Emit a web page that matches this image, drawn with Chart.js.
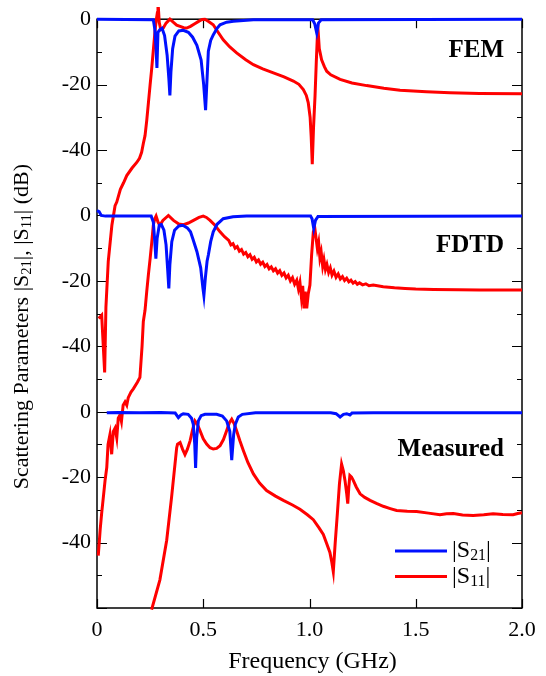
<!DOCTYPE html>
<html>
<head>
<meta charset="utf-8">
<script src="https://cdn.jsdelivr.net/npm/chart.js@4.4.0/dist/chart.umd.min.js"></script>
<style>
  html, body { margin: 0; padding: 0; background: #fff; }
  canvas { display: block; }
</style>
</head>
<body>
<canvas id="chart" width="546" height="676"></canvas>
<script>
// === Data (frequency in GHz, values in dB) ===
const xTicks = [0, 0.5, 1.0, 1.5, 2.0];
const panelNames = ["FEM", "FDTD", "Measured"];
const panelOffset = [0, -60, -120];   // each panel is shifted down by 60 dB

const femS21Freq = [0, 0.265, 0.272, 0.278, 0.282, 0.287, 0.296, 0.306, 0.318, 0.33, 0.338, 0.343, 0.348, 0.356, 0.367, 0.385, 0.406, 0.43, 0.45, 0.47, 0.49, 0.502, 0.511, 0.518, 0.524, 0.535, 0.547, 0.565, 0.579, 0.61, 0.642, 0.736, 1.015, 1.025, 1.034, 1.042, 1.055, 2.0];
const femS21 = [0, -0.2, -3, -9, -14.9, -4, -3.2, -2.8, -5, -11, -18, -23.3, -16, -9, -5.2, -3.6, -3.4, -4, -5.5, -8, -12.5, -20, -27.8, -18, -9.8, -6.5, -4.8, -2.8, -1.7, -0.9, -0.6, -0.2, -0.2, -1.5, -4.2, -1.2, -0.2, 0];

const femS11Freq = [0.008, 0.022, 0.036, 0.042, 0.053, 0.07, 0.085, 0.093, 0.11, 0.125, 0.14, 0.165, 0.187, 0.2, 0.21, 0.218, 0.226, 0.234, 0.242, 0.25, 0.257, 0.263, 0.268, 0.274, 0.279, 0.284, 0.287, 0.289, 0.293, 0.3, 0.312, 0.325, 0.343, 0.36, 0.375, 0.391, 0.408, 0.422, 0.44, 0.46, 0.48, 0.495, 0.508, 0.525, 0.547, 0.57, 0.594, 0.625, 0.657, 0.7, 0.736, 0.78, 0.83, 0.88, 0.924, 0.95, 0.971, 0.985, 0.994, 1.003, 1.008, 1.013, 1.019, 1.026, 1.032, 1.037, 1.041, 1.046, 1.057, 1.07, 1.081, 1.1, 1.144, 1.2, 1.269, 1.35, 1.426, 1.55, 1.661, 1.8, 2.0];
const femS11 = [-91.5, -90.5, -108, -88, -74, -63, -57, -55.9, -52, -50, -47.8, -45.5, -43.8, -42.5, -40.7, -38, -35.6, -31, -25.5, -20, -15.4, -11, -7.3, -3, -0.2, 2, 3.3, 3.3, -1, -3.2, -2.7, -1.2, 0, -1, -1.8, -2.2, -2.6, -2.7, -2.2, -1.4, -0.6, -0.1, 0, -0.7, -1.7, -4, -6.3, -8.5, -10.3, -12.4, -13.9, -15.2, -16.4, -17.6, -18.9, -19.9, -21.5, -23.3, -25.5, -30, -36, -44.3, -33, -23.5, -13, -5.3, -4, -9, -12.4, -14.5, -15.9, -17, -18.4, -19.5, -20.3, -21.1, -21.7, -22.2, -22.5, -22.7, -22.8];

const fdtdS21Freq = [0, 0.01, 0.02, 0.04, 0.255, 0.265, 0.272, 0.277, 0.283, 0.293, 0.303, 0.315, 0.325, 0.333, 0.338, 0.343, 0.352, 0.365, 0.385, 0.404, 0.425, 0.44, 0.451, 0.47, 0.488, 0.498, 0.503, 0.51, 0.518, 0.524, 0.535, 0.547, 0.565, 0.594, 0.64, 0.704, 1.005, 1.012, 1.02, 1.028, 1.04, 2.0];
const fdtdS21 = [1.5, 1.2, 0, -0.2, -0.2, -2, -8, -13.2, -7, -3, -2.8, -4.5, -9, -17, -22.3, -15, -8, -4.5, -3.2, -3, -3.8, -5, -7.1, -11, -16, -22, -24.5, -19, -14, -12.1, -8, -5, -2.7, -1, -0.4, -0.2, -0.2, -1, -4, -1.5, -0.3, -0.2];

const fdtdS11Freq = [0.006, 0.015, 0.022, 0.03, 0.038, 0.046, 0.052, 0.061, 0.069, 0.077, 0.085, 0.093, 0.1, 0.108, 0.115, 0.123, 0.132, 0.14, 0.147, 0.16, 0.171, 0.19, 0.202, 0.212, 0.218, 0.226, 0.234, 0.242, 0.25, 0.258, 0.265, 0.272, 0.278, 0.287, 0.296, 0.31, 0.336, 0.36, 0.385, 0.407, 0.43, 0.454, 0.48, 0.5, 0.515, 0.532, 0.555, 0.579, 0.6,
  0.62, 0.63, 0.64, 0.65, 0.66, 0.67, 0.68, 0.69, 0.7, 0.71, 0.72, 0.73, 0.74, 0.75, 0.76, 0.77, 0.78, 0.79, 0.8, 0.81, 0.82, 0.83, 0.84, 0.85, 0.86, 0.87, 0.88, 0.89, 0.9, 0.91, 0.92, 0.93, 0.94,
  0.948, 0.955, 0.962, 0.968, 0.974, 0.98, 0.987, 0.994, 1.002, 1.01, 1.018, 1.025, 1.031, 1.037, 1.043, 1.049, 1.055, 1.062, 1.068, 1.075, 1.082, 1.09, 1.098, 1.106, 1.115, 1.125, 1.135, 1.145, 1.155, 1.165, 1.175, 1.185, 1.195, 1.205, 1.215, 1.225, 1.235, 1.25, 1.265, 1.28, 1.3, 1.347, 1.4, 1.45, 1.5, 1.584, 1.7, 1.8, 1.9, 2.0];
const fdtdS11 = [-104, -96, -91, -86, -81, -77, -70, -67, -73, -66, -65, -68, -62, -61, -63, -58, -57, -58, -55.7, -54, -53, -51, -49.5, -40, -32.4, -29, -23.3, -18, -13.2, -8, -3, -1, -0.2, -2, -3, -1.5, 0, -1.5, -2.6, -2.8, -2.3, -1.5, -0.6, -0.2, -0.6, -1.5, -3, -5, -6.5,
  -7.6, -9.0, -8.6, -10.0, -9.5, -10.9, -10.4, -11.8, -11.3, -12.6, -12.0, -13.4, -12.8, -14.2, -13.6, -14.9, -14.3, -15.6, -15.0, -16.3, -15.7, -16.9, -16.3, -17.6, -16.9, -18.3, -17.6, -19.1, -18.3, -20.0, -19.0, -21.0, -19.8,
  -22.5, -20.5, -25, -21.5, -28.4, -23.3, -28.4, -24, -21.3, -12, -5, -3.9, -7, -10.1, -8.2, -13, -11.2, -15.5, -13.5, -16.5, -15, -17.4, -16, -18.2, -17, -18.9, -17.9, -19.4, -18.7, -19.9, -19.2, -20.3, -19.8, -20.7, -20.2, -21.0, -20.6, -21.2, -20.9, -21.5, -21.3, -21.8, -22.1, -22.3, -22.5, -22.6, -22.7, -22.8, -22.8, -22.8];

const measS21Freq = [0.046, 0.1, 0.2, 0.3, 0.368, 0.383, 0.395, 0.406, 0.429, 0.445, 0.453, 0.46, 0.464, 0.469, 0.477, 0.49, 0.508, 0.563, 0.59, 0.61, 0.625, 0.634, 0.643, 0.651, 0.665, 0.684, 0.746, 1.1, 1.125, 1.144, 1.16, 1.175, 1.19, 1.2, 1.3, 2.0];
const measS21 = [-0.3, -0.2, -0.3, -0.2, -0.4, -1.8, -1.0, -0.6, -0.8, -2, -3.8, -10, -17.2, -8, -2.8, -1.2, -0.8, -0.8, -1.3, -2.8, -6, -14.8, -7, -3.8, -1.6, -0.8, -0.3, -0.3, -0.6, -1.6, -0.8, -0.6, -1.0, -0.4, -0.3, -0.3];

const measS11Freq = [0.257, 0.296, 0.328, 0.351, 0.367, 0.375, 0.379, 0.391, 0.403, 0.414, 0.425, 0.438, 0.45, 0.461, 0.472, 0.485, 0.5, 0.516, 0.532, 0.547, 0.563, 0.579, 0.595, 0.61, 0.622, 0.634, 0.645, 0.657, 0.672, 0.689, 0.71, 0.736, 0.765, 0.798, 0.84, 0.877, 0.92, 0.955, 0.99, 1.018, 1.045, 1.065, 1.082, 1.096, 1.105, 1.112, 1.121, 1.131, 1.141, 1.151, 1.159, 1.167, 1.175, 1.18, 1.185, 1.19, 1.198, 1.206, 1.22, 1.238, 1.26, 1.285, 1.315, 1.347, 1.38, 1.41, 1.46, 1.504, 1.56, 1.614, 1.645, 1.677, 1.72, 1.77, 1.82, 1.864, 1.91, 1.958, 1.98, 2.0];
const measS11 = [-60.5, -51.4, -39.3, -26.1, -16, -11, -9.9, -9.4, -11.5, -13.1, -11.5, -8.9, -5.5, -2.8, -3.8, -5.8, -8.3, -9.9, -11, -11.4, -11.2, -10.4, -8.5, -5.8, -3.5, -2.3, -3.6, -5.8, -8.8, -11.9, -15.5, -19, -21.8, -24.1, -25.8, -27.1, -28.5, -29.8, -31.5, -33, -35.5, -37.5, -40.5, -43, -46, -48.9, -40, -31.2, -22, -16, -18, -21, -25, -28.1, -23, -19.5, -20, -21, -23, -25.1, -26.2, -27.1, -28, -28.9, -29.6, -30.2, -30.4, -30.5, -31, -31.5, -31.2, -31.1, -31.6, -31.7, -31.5, -31.2, -31.4, -31.5, -31.1, -30.9];

// === Styles ===
const BLUE = "#0010ff";
const RED = "#ff0000";
const FONT = '"Liberation Serif", "Times New Roman", serif';

function toPoints(freq, vals, offset) {
  return freq.map((f, i) => ({ x: f, y: vals[i] + offset }));
}

function line(freq, vals, panel, color, order) {
  return {
    data: toPoints(freq, vals, panelOffset[panel]),
    borderColor: color,
    borderWidth: 3,
    pointRadius: 0,
    showLine: true,
    tension: 0,
    fill: false,
    order: order,
    clip: { left: 2, top: 14, right: 2, bottom: 2 }
  };
}

// y tick label: value inside its own panel
function panelLabel(v) {
  if (v % 20 !== 0 || v <= -180) return "";
  const local = v - 60 * Math.ceil(v / 60);
  return String(Math.abs(local) < 1e-9 ? 0 : local);
}

// draw text pieces, some as subscripts
function drawRich(ctx, parts, x, y, size) {
  const subSize = size * 0.66;
  let cx = x;
  parts.forEach(([text, sub]) => {
    ctx.font = (sub ? subSize : size) + "px " + FONT;
    ctx.fillText(text, cx, sub ? y + size * 0.22 : y);
    cx += ctx.measureText(text).width;
  });
  return cx - x;
}
function richWidth(ctx, parts, size) {
  let w = 0;
  parts.forEach(([text, sub]) => {
    ctx.font = (sub ? size * 0.66 : size) + "px " + FONT;
    w += ctx.measureText(text).width;
  });
  return w;
}

// === Frame and inward ticks ===
const framePlugin = {
  id: "frame",
  beforeDatasetsDraw(chart) {
    const { ctx, chartArea: a, scales: { x, y } } = chart;
    ctx.save();
    ctx.strokeStyle = "#000";
    ctx.lineWidth = 1.5;
    ctx.strokeRect(a.left, a.top, a.right - a.left, a.bottom - a.top);
    ctx.lineWidth = 1.2;
    ctx.beginPath();
    y.ticks.forEach(t => {
      const py = Math.round(y.getPixelForValue(t.value)) + 0.5;
      const len = panelLabel(t.value) !== "" || t.value <= -180 ? 10 : 5;
      ctx.moveTo(a.left, py); ctx.lineTo(a.left + len, py);
      ctx.moveTo(a.right, py); ctx.lineTo(a.right - len, py);
    });
    x.ticks.forEach(t => {
      const px = Math.round(x.getPixelForValue(t.value)) + 0.5;
      ctx.moveTo(px, a.bottom); ctx.lineTo(px, a.bottom - 9);
      ctx.moveTo(px, a.top); ctx.lineTo(px, a.top + 9);
    });
    ctx.stroke();
    ctx.restore();
  }
};

// === Titles, panel names and legend ===
const textPlugin = {
  id: "texts",
  afterDraw(chart) {
    const { ctx, chartArea: a, scales: { y } } = chart;
    ctx.save();
    ctx.fillStyle = "#000";
    ctx.textBaseline = "middle";

    // panel names
    ctx.font = "bold 25px " + FONT;
    ctx.textAlign = "right";
    const namePos = [-9.5, -9.3, -11.7];
    panelNames.forEach((n, i) => {
      ctx.fillText(n, a.right - 18, y.getPixelForValue(panelOffset[i] + namePos[i]));
    });

    // x title
    ctx.textAlign = "center";
    ctx.font = "24px " + FONT;
    ctx.fillText("Frequency (GHz)", (a.left + a.right) / 2 + 3, 662);

    // y title, rotated
    ctx.textAlign = "left";
    const yTitle = [["Scattering Parameters |S", false], ["21", true], ["|, |S", false], ["11", true], ["| (dB)", false]];
    const tw = richWidth(ctx, yTitle, 22);
    ctx.translate(22, (a.top + a.bottom) / 2 + 13);
    ctx.rotate(-Math.PI / 2);
    drawRich(ctx, yTitle, -tw / 2, 0, 22);
    ctx.setTransform(1, 0, 0, 1, 0, 0);

    // legend
    const items = [[BLUE, "21"], [RED, "11"]];
    items.forEach(([c, sub], i) => {
      const ly = 551 + i * 25.5;
      ctx.strokeStyle = c;
      ctx.lineWidth = 3;
      ctx.beginPath();
      ctx.moveTo(395, ly); ctx.lineTo(447, ly);
      ctx.stroke();
      ctx.fillStyle = "#000";
      drawRich(ctx, [["|S", false], [sub, true], ["|", false]], 452, ly, 24);
    });
    ctx.restore();
  }
};

const datasets = [
  line(femS11Freq, femS11, 0, RED, 2),
  line(femS21Freq, femS21, 0, BLUE, 1),
  line(fdtdS11Freq, fdtdS11, 1, RED, 2),
  line(fdtdS21Freq, fdtdS21, 1, BLUE, 1),
  line(measS11Freq, measS11, 2, RED, 2),
  line(measS21Freq, measS21, 2, BLUE, 1)
];

new Chart(document.getElementById("chart"), {
  type: "scatter",
  data: { datasets },
  options: {
    responsive: false,
    animation: false,
    devicePixelRatio: 1,
    layout: { padding: { top: 16, right: 24, left: 0, bottom: 0 } },
    plugins: { legend: { display: false }, tooltip: { enabled: false } },
    scales: {
      x: {
        type: "linear",
        min: 0,
        max: 2,
        afterBuildTicks: scale => { scale.ticks = xTicks.map(v => ({ value: v })); },
        afterFit: scale => { scale.height = 68; },
        grid: { display: false, drawTicks: false },
        border: { display: false },
        ticks: {
          padding: 9,
          color: "#000",
          font: { family: FONT, size: 22 },
          callback: v => (v === 0 ? "0" : v.toFixed(1))
        }
      },
      y: {
        min: -180,
        max: 0,
        afterFit: scale => { scale.width = 97; },
        grid: { display: false, drawTicks: false },
        border: { display: false },
        ticks: {
          stepSize: 10,
          autoSkip: false,
          padding: 6,
          color: "#000",
          font: { family: FONT, size: 22 },
          callback: v => panelLabel(v)
        }
      }
    }
  },
  plugins: [framePlugin, textPlugin]
});
</script>
</body>
</html>
